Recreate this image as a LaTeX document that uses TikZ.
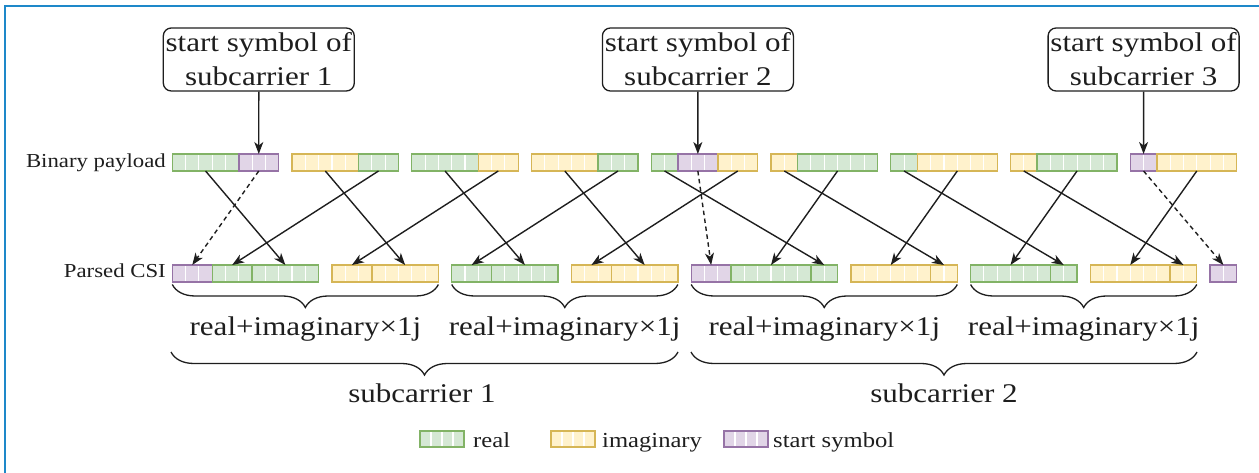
\documentclass[tikz,border=0pt]{standalone}
\usepackage{fontspec}
\setmainfont{Liberation Serif}[FakeStretch=1.15]
\usetikzlibrary{arrows.meta,decorations.pathreplacing,calc}

\definecolor{realfill}{HTML}{D5E8D4}
\definecolor{realline}{HTML}{82B366}
\definecolor{imagfill}{HTML}{FFF2CC}
\definecolor{imagline}{HTML}{D6B656}
\definecolor{startfill}{HTML}{E1D5E7}
\definecolor{startline}{HTML}{9673A6}
\definecolor{framecol}{RGB}{30,136,201}
\definecolor{ink}{RGB}{30,30,30}

% one bit cell and the left edge of both rows
\newcommand\cw{13.305}
\newcommand\xo{172.3}

\tikzset{
  x=1pt, y=-1pt,
  cell width/.store in=\cellw, cell width=13.305,
  segbox/.style={draw, line width=1.4pt, inner sep=0pt, outer sep=0pt,
    minimum height=17pt,
    path picture={\foreach \k in {1,...,12}{
      \draw[white, line width=1.1pt]
        ([xshift=\k*\cellw pt]path picture bounding box.south west) --
        ([xshift=\k*\cellw pt]path picture bounding box.north west);}}},
  re/.style={segbox, fill=realfill, draw=realline},
  im/.style={segbox, fill=imagfill, draw=imagline},
  st/.style={segbox, fill=startfill, draw=startline},
  flow/.style={-{Stealth[length=12pt, width=9pt, inset=3.5pt]}, line width=1.4pt, ink},
  startflow/.style={flow, dash pattern=on 4.5pt off 3.5pt},
  note/.style={draw=ink, rounded corners=8pt, line width=1.3pt, minimum width=191pt,
    minimum height=63pt, align=center, inner sep=0pt, text=ink,
    font=\fontsize{27}{34}\selectfont},
  brace/.style={decorate, decoration={brace, mirror, amplitude=23pt}, line width=1.3pt, ink},
  bracelbl/.style={anchor=base, text=ink, inner sep=0pt, font=\fontsize{27}{30}\selectfont},
  rowlbl/.style={anchor=base east, text=ink, inner sep=0pt, font=\fontsize{19.8}{24}\selectfont},
  keylbl/.style={anchor=base west, text=ink, inner sep=0pt, font=\fontsize{21.4}{26}\selectfont},
}

% \seg{name}{first cell}{cells}{top}{style}
\newcommand\seg[5]{\node[#5, minimum width=#3*\cw pt, anchor=north west] (#1) at ({\xo+#2*\cw},#4) {};}

\begin{document}
\begin{tikzpicture}
\useasboundingbox (0,0) rectangle (1259,473);

% frame
\draw[framecol, line width=2.5pt] (5,473) -- (5,6) -- (1259,6);

% binary payload row
\seg{b1r}{0}{5}{154}{re}  \seg{b1s}{5}{3}{154}{st}
\seg{b2i}{9}{5}{154}{im}  \seg{b2r}{14}{3}{154}{re}
\seg{b3r}{18}{5}{154}{re} \seg{b3i}{23}{3}{154}{im}
\seg{b4i}{27}{5}{154}{im} \seg{b4r}{32}{3}{154}{re}
\seg{b5r}{36}{2}{154}{re} \seg{b5s}{38}{3}{154}{st} \seg{b5i}{41}{3}{154}{im}
\seg{b6i}{45}{2}{154}{im} \seg{b6r}{47}{6}{154}{re}
\seg{b7r}{54}{2}{154}{re} \seg{b7i}{56}{6}{154}{im}
\seg{b8i}{63}{2}{154}{im} \seg{b8r}{65}{6}{154}{re}
\seg{b9s}{72}{2}{154}{st} \seg{b9i}{74}{6}{154}{im}

% parsed CSI row
\seg{p1s}{0}{3}{265}{st}  \seg{p1a}{3}{3}{265}{re}  \seg{p1b}{6}{5}{265}{re}
\seg{p2a}{12}{3}{265}{im} \seg{p2b}{15}{5}{265}{im}
\seg{p3a}{21}{3}{265}{re} \seg{p3b}{24}{5}{265}{re}
\seg{p4a}{30}{3}{265}{im} \seg{p4b}{33}{5}{265}{im}
\seg{p5s}{39}{3}{265}{st} \seg{p5a}{42}{6}{265}{re} \seg{p5b}{48}{2}{265}{re}
\seg{p6a}{51}{6}{265}{im} \seg{p6b}{57}{2}{265}{im}
\seg{p7a}{60}{6}{265}{re} \seg{p7b}{66}{2}{265}{re}
\seg{p8a}{69}{6}{265}{im} \seg{p8b}{75}{2}{265}{im}
\seg{p9s}{78}{2}{265}{st}

% row labels
\node[rowlbl] (lbin) at (166,168) {Binary payload};
\node[rowlbl] (lcsi) at (166,278) {Parsed CSI};

% start-symbol callouts
\node[note] (n1) at (258.8,59.5) {start symbol of\\subcarrier 1};
\node[note] (n2) at (697.9,59.5) {start symbol of\\subcarrier 2};
\node[note] (n3) at (1143.6,59.5) {start symbol of\\subcarrier 3};
\draw[flow] (n1.south) -- (b1s.north);
\draw[flow] (n2.south) -- (b5s.north);
\draw[flow] (n3.south) -- (b9s.north);

% byte re-ordering
\draw[flow] (b1r.south) -- (p1b.north);
\draw[startflow] (b1s.south) -- (p1s.north);
\draw[flow] (b2i.south) -- (p2b.north);
\draw[flow] (b2r.south) -- (p1a.north);
\draw[flow] (b3r.south) -- (p3b.north);
\draw[flow] (b3i.south) -- (p2a.north);
\draw[flow] (b4i.south) -- (p4b.north);
\draw[flow] (b4r.south) -- (p3a.north);
\draw[flow] (b5r.south) -- (p5b.north);
\draw[startflow] (b5s.south) -- (p5s.north);
\draw[flow] (b5i.south) -- (p4a.north);
\draw[flow] (b6i.south) -- (p6b.north);
\draw[flow] (b6r.south) -- (p5a.north);
\draw[flow] (b7r.south) -- (p7b.north);
\draw[flow] (b7i.south) -- (p6a.north);
\draw[flow] (b8i.south) -- (p8b.north);
\draw[flow] (b8r.south) -- (p7a.north);
\draw[startflow] (b9s.south) -- (p9s.north);
\draw[flow] (b9i.south) -- (p8a.north);

% complex values
\draw[brace] ([yshift=-2.5pt]p1s.south west) -- ([yshift=-2.5pt]p2b.south east);
\draw[brace] ([yshift=-2.5pt]p3a.south west) -- ([yshift=-2.5pt]p4b.south east);
\draw[brace] ([yshift=-2.5pt]p5s.south west) -- ([yshift=-2.5pt]p6b.south east);
\draw[brace] ([yshift=-2.5pt]p7a.south west) -- ([yshift=-2.5pt]p8b.south east);
\node[bracelbl] (c1) at (305.4,335) {real+imaginary×1j};
\node[bracelbl] (c2) at (564.6,335) {real+imaginary×1j};
\node[bracelbl] (c3) at (824.3,335) {real+imaginary×1j};
\node[bracelbl] (c4) at (1083.7,335) {real+imaginary×1j};

% subcarriers
\coordinate (s1a) at (171,352);
\coordinate (s1b) at (678,352);
\coordinate (s2a) at (691,352);
\coordinate (s2b) at (1197,352);
\draw[brace] (s1a) -- (s1b);
\draw[brace] (s2a) -- (s2b);
\node[bracelbl] (sc1) at (422,402) {subcarrier 1};
\node[bracelbl] (sc2) at (944,402) {subcarrier 2};

% legend
\node[re, cell width=11, minimum width=44pt, minimum height=16pt, anchor=north west] (kr) at (420,431) {};
\node[keylbl] (kre) at (473,447) {real};
\node[im, cell width=11, minimum width=44pt, minimum height=16pt, anchor=north west] (ki) at (551,431) {};
\node[keylbl] (kim) at (602,447) {imaginary};
\node[st, cell width=11, minimum width=44pt, minimum height=16pt, anchor=north west] (ks) at (724,431) {};
\node[keylbl] (kst) at (773,447) {start symbol};
\end{tikzpicture}
\end{document}
